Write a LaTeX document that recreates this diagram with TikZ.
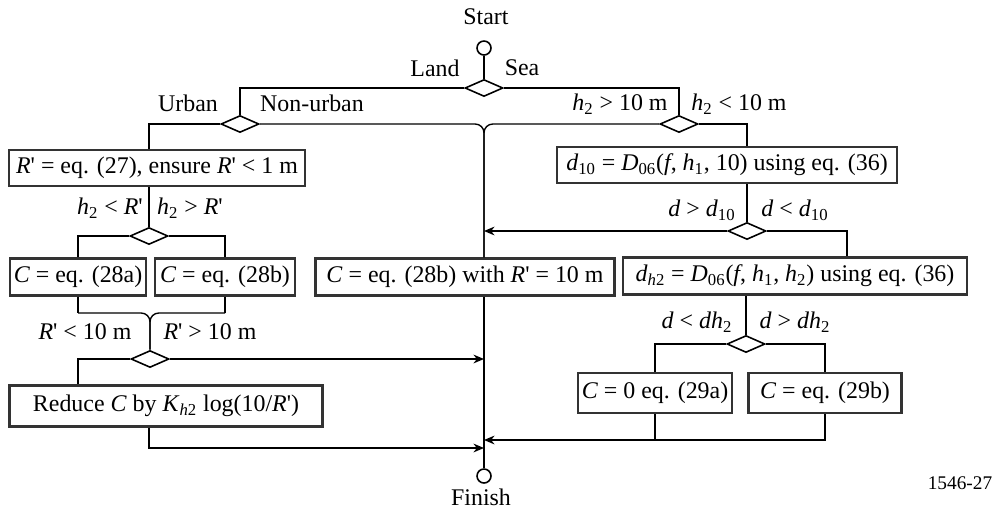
\documentclass[tikz,border=0pt]{standalone}
\usepackage{fontspec}
\setmainfont{Liberation Serif}
\usetikzlibrary{shapes.geometric,arrows.meta}

\newcommand{\vr}[1]{\textit{#1}}
\newcommand{\lo}[1]{\textsubscript{#1}}
\newcommand{\Rp}{\textit{R}\textquotesingle}

\tikzset{fcbox/.style={draw=black!80,line width=1.3pt,inner sep=2pt,minimum height=0.72cm},
         fcdec/.style={diamond,draw,line width=0.9pt,inner sep=0pt,minimum width=0.76cm,minimum height=0.34cm},
         fcend/.style={circle,draw,line width=0.9pt,inner sep=0pt,minimum size=0.28cm},
         fclab/.style={inner sep=1pt},
         fcin/.style={-{Stealth[length=6pt,width=5pt]}}}

\begin{document}
\begin{tikzpicture}[x=0.02cm,y=-0.02cm,font=\fontsize{13.6}{15}\selectfont,line width=0.8pt]
  \useasboundingbox (0,0) rectangle (994,512);
  % start and the first splits
  \node[fcend] (start) at (484,48) {};
  \node[fclab] (tStart) at (486,17) {Start};
  \node[fcdec] (dLS) at (484,88) {};
  \node[fclab] (tLand) at (435,68) {Land};
  \node[fclab] (tSea) at (522,68) {Sea};
  \node[fcdec] (dUrb) at (240,124) {};
  \node[fclab] (tUrb) at (188,103) {Urban};
  \node[fclab] (tNUrb) at (312,103) {Non-urban};
  \node[fcdec] (dSea) at (679,124) {};
  \node[fclab] (tHgt) at (620,104) {\vr{h}\lo{2} > 10 m};
  \node[fclab] (tHlt) at (739,104) {\vr{h}\lo{2} < 10 m};
  \coordinate (jC) at (484,124);
  % land branch
  \node[fcbox,minimum width=5.92cm] (rbox) at (157,168) {\Rp{} = eq. (27), ensure \Rp{} < 1 m};
  \node[fcdec] (dHR) at (149,236) {};
  \node[fclab] (tHRlt) at (110,208) {\vr{h}\lo{2} < \Rp};
  \node[fclab] (tHRgt) at (190,208) {\vr{h}\lo{2} > \Rp};
  \node[fcbox,minimum width=2.72cm,minimum height=0.74cm] (c28a) at (78,277) {\vr{C} = eq. (28a)};
  \node[fcbox,minimum width=2.8cm,minimum height=0.74cm] (c28b) at (225,277) {\vr{C} = eq. (28b)};
  \node[fcbox,minimum width=5.98cm,minimum height=0.74cm] (c28r) at (465,277) {\vr{C} = eq. (28b) with \Rp{} = 10 m};
  \coordinate (jR) at (150,313);
  \node[fcdec] (dRm) at (150,359) {};
  \node[fclab] (tRlt) at (85,332) {\Rp{} < 10 m};
  \node[fclab] (tRgt) at (210,332) {\Rp{} > 10 m};
  \node[fcbox,minimum width=6.26cm,minimum height=0.82cm] (redbox) at (166,406) {Reduce \vr{C} by \vr{K}\lo{\vr{h}2} log(10/\Rp)};
  % sea branch
  \node[fcbox,minimum width=6.8cm] (d10box) at (727,165) {\vr{d}\lo{10} = \vr{D}\lo{06}(\vr{f}, \vr{h}\lo{1}, 10) using eq. (36)};
  \node[fcdec] (dD10) at (747,231) {};
  \node[fclab] (tDgt) at (702,210) {\vr{d} > \vr{d}\lo{10}};
  \node[fclab] (tDlt) at (795,210) {\vr{d} < \vr{d}\lo{10}};
  \node[fcbox,minimum width=6.88cm,minimum height=0.74cm] (dh2box) at (795,276) {\vr{d}\lo{\vr{h}2} = \vr{D}\lo{06}(\vr{f}, \vr{h}\lo{1}, \vr{h}\lo{2}) using eq. (36)};
  \node[fcdec] (dDh2) at (746,344) {};
  \node[fclab] (tDhlt) at (697,322) {\vr{d} < \vr{dh}\lo{2}};
  \node[fclab] (tDhgt) at (795,322) {\vr{d} > \vr{dh}\lo{2}};
  \node[fcbox,minimum width=3.06cm,minimum height=0.8cm] (c29a) at (655,393) {\vr{C} = 0 eq. (29a)};
  \node[fcbox,minimum width=3.06cm,minimum height=0.8cm] (c29b) at (825,393) {\vr{C} = eq. (29b)};
  % finish
  \coordinate (inC) at (484,440);
  \coordinate (inD) at (484,448);
  \node[fcend] (finish) at (484,476) {};
  \node[fclab] (tFinish) at (481,497) {Finish};
  \node[fclab,font=\fontsize{11}{13}\selectfont] (tFig) at (960,483) {1546-27};
  % connectors
  \draw (start) -- (dLS);
  \draw (dLS.west) -| (dUrb.north);
  \draw (dLS.east) -| (dSea.north);
  \draw (dUrb.west) -| (dHR |- rbox.north);
  \draw[rounded corners=5pt] (dUrb.east) -- (jC) -- (jC |- c28r.north);
  \draw[rounded corners=5pt] (dSea.west) -- (jC) -- (jC |- c28r.north);
  \draw (dSea.east) -| (dD10 |- d10box.north);
  \draw (dHR |- rbox.south) -- (dHR);
  \draw (dHR.west) -| (c28a.north);
  \draw (dHR.east) -| (c28b.north);
  \draw (c28a.south) -- (c28a.south |- jR);
  \draw (c28b.south) -- (c28b.south |- jR);
  \draw[rounded corners=5pt] (c28a.south |- jR) -- (jR) -- (dRm.north);
  \draw[rounded corners=5pt] (c28b.south |- jR) -- (jR) -- (dRm.north);
  \draw[fcin] (dRm.east) -- (dRm -| jC);
  \draw (dRm.west) -| (c28a.south |- redbox.north);
  \draw[fcin] (dHR |- redbox.south) |- (inD);
  \draw (jC |- c28r.south) -- (finish.north);
  \draw (dD10 |- d10box.south) -- (dD10);
  \draw[fcin] (dD10.west) -- (dD10 -| jC);
  \draw (dD10.east) -| ([xshift=1.04cm]dh2box.north);
  \draw (dDh2 |- dh2box.south) -- (dDh2);
  \draw (dDh2.west) -| (c29a.north);
  \draw (dDh2.east) -| (c29b.north);
  \draw (c29a.south) -- (c29a.south |- inC);
  \draw[fcin] (c29b.south) |- (inC);
\end{tikzpicture}
\end{document}
